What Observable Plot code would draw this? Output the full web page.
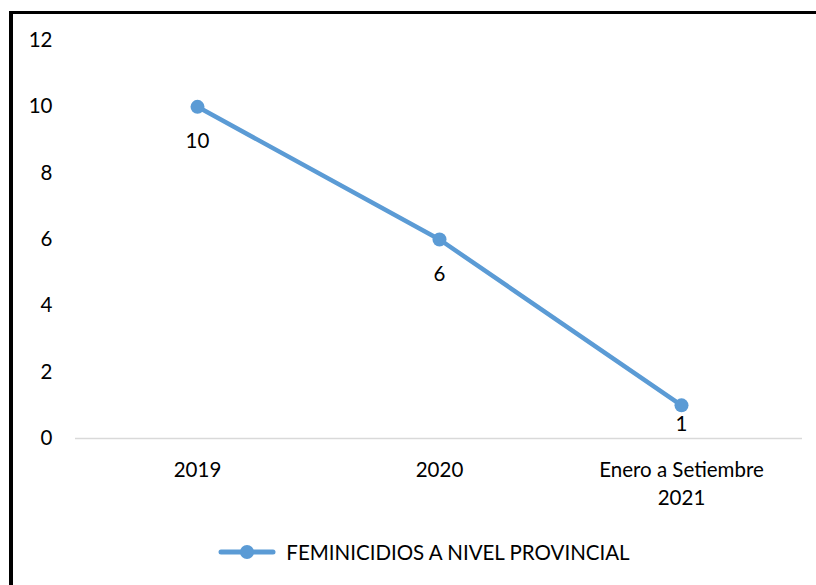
<!DOCTYPE html>
<html><head><meta charset="utf-8">
<script src="https://cdn.jsdelivr.net/npm/d3@7"></script>
<script src="https://cdn.jsdelivr.net/npm/@observablehq/plot@0.6"></script>
<style>
body{margin:0;background:#fff;font-family:Lato,"Open Sans",sans-serif;}
#wrap{position:relative;width:816px;height:585px;overflow:hidden;background:#fff;}
#frameTop{position:absolute;left:9px;top:11px;width:807px;height:3px;background:#000;}
#frameLeft{position:absolute;left:9px;top:11px;width:4px;height:574px;background:#000;}
#chart{position:absolute;left:0;top:0;}
#legend{position:absolute;left:16px;top:540px;width:816px;display:flex;justify-content:center;align-items:center;font-size:20.5px;color:#000;}
#legend svg{margin-right:10px;}
</style></head>
<body><div id="wrap"><div id="frameTop"></div><div id="frameLeft"></div><div id="chart"></div>
<div id="legend"><svg width="58" height="20"><line x1="3" y1="10" x2="55" y2="10" stroke="#5B9BD5" stroke-width="5" stroke-linecap="round"/><circle cx="29" cy="10" r="7" fill="#5B9BD5"/></svg><span id="legtext"></span></div>
</div>
<script>
const categories = ["2019", "2020", "Enero a Setiembre\n2021"];
const values = [10, 6, 1];
const seriesName = "FEMINICIDIOS A NIVEL PROVINCIAL";
const yTicks = [0, 2, 4, 6, 8, 10, 12];

const data = categories.map((c, i) => ({cat: c, value: values[i]}));
const color = "#5B9BD5";

const chart = Plot.plot({
  width: 816,
  height: 515,
  marginTop: 40,
  marginBottom: 77,
  marginLeft: 75,
  marginRight: 14,
  style: {fontFamily: "Lato, 'Open Sans', sans-serif", fontSize: "20px", color: "#000", background: "transparent", overflow: "visible"},
  x: {type: "point", domain: categories, padding: 0.5},
  y: {domain: [0, 12]},
  marks: [
    Plot.ruleY([0], {stroke: "#d9d9d9", strokeWidth: 1.5}),
    Plot.axisY({ticks: yTicks, tickSize: 0, tickPadding: 23, label: null, fontSize: 20.5}),
    Plot.axisX({tickSize: 0, tickPadding: 19, label: null, fontSize: 20.5, lineHeight: 1.35}),
    Plot.line(data, {x: "cat", y: "value", stroke: color, strokeWidth: 4.5}),
    Plot.dot(data, {x: "cat", y: "value", r: 7, fill: color}),
    Plot.text(data, {x: "cat", y: d => Math.max(d.value - 1.05, 0.42), text: d => String(d.value), fontSize: 20.5, fill: "#000"})
  ]
});
document.getElementById("chart").appendChild(chart);
document.getElementById("legtext").textContent = seriesName;
</script></body></html>
